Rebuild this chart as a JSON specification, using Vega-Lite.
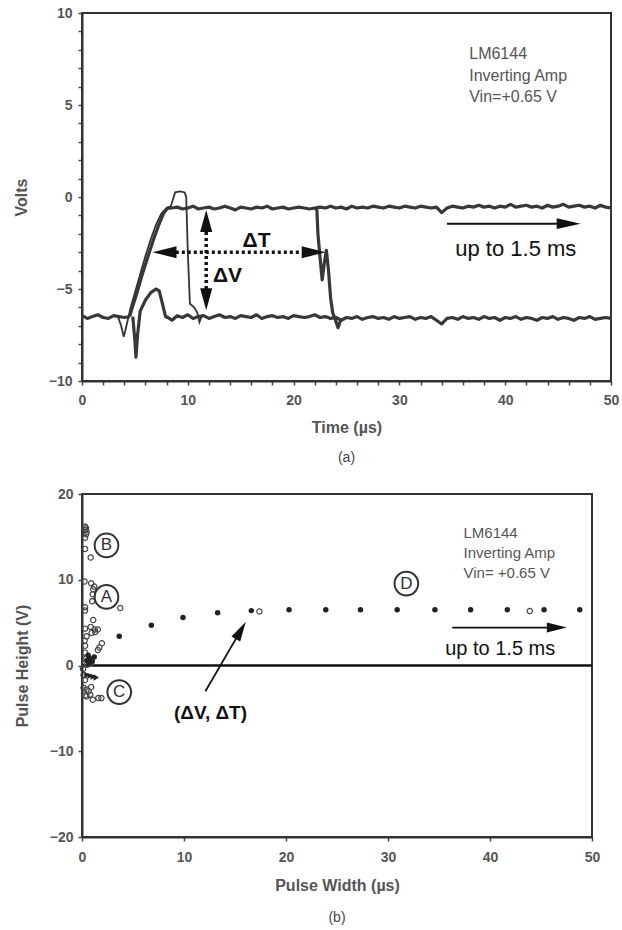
{
  "$schema": "https://vega.github.io/schema/vega-lite/v6.json",
  "padding": {"left": 12, "top": 5, "right": 5, "bottom": 3},
  "spacing": 20,
  "config": {
    "font": "Liberation Sans",
    "view": {"stroke": "#333", "strokeWidth": 2},
    "axis": {"grid": false, "domainColor": "#333", "domainWidth": 2, "tickColor": "#444", "tickWidth": 1.5, "labelFontSize": 14, "labelFontWeight": "bold", "labelColor": "#555", "titleFontSize": 16, "titleFontWeight": "bold", "titleColor": "#555", "labelFlush": false, "labelOverlap": false},
    "title": {"fontSize": 14, "fontWeight": "normal", "color": "#444"}
  },
  "datasets": {
    "traces": [
      {"s": "base1", "t": 0, "v": -6.45}, {"s": "base1", "t": 0.5, "v": -6.6}, {"s": "base1", "t": 1, "v": -6.5}, {"s": "base1", "t": 1.5, "v": -6.4}, {"s": "base1", "t": 2, "v": -6.55}, {"s": "base1", "t": 2.5, "v": -6.6}, {"s": "base1", "t": 3, "v": -6.45}, {"s": "base1", "t": 3.5, "v": -6.5}, {"s": "base1", "t": 4, "v": -6.55}, {"s": "base1", "t": 4.5, "v": -6.5},
      {"s": "base2", "t": 8.0, "v": -6.5}, {"s": "base2", "t": 8.5, "v": -6.7}, {"s": "base2", "t": 9.0, "v": -6.45}, {"s": "base2", "t": 9.5, "v": -6.55}, {"s": "base2", "t": 10.0, "v": -6.4}, {"s": "base2", "t": 10.5, "v": -6.6}, {"s": "base2", "t": 11.0, "v": -6.5}, {"s": "base2", "t": 11.5, "v": -6.45}, {"s": "base2", "t": 12.0, "v": -6.6}, {"s": "base2", "t": 12.5, "v": -6.5}, {"s": "base2", "t": 13.0, "v": -6.4}, {"s": "base2", "t": 13.5, "v": -6.55}, {"s": "base2", "t": 14.0, "v": -6.5}, {"s": "base2", "t": 14.5, "v": -6.6}, {"s": "base2", "t": 15.0, "v": -6.45}, {"s": "base2", "t": 15.5, "v": -6.5}, {"s": "base2", "t": 16.0, "v": -6.55}, {"s": "base2", "t": 16.5, "v": -6.4}, {"s": "base2", "t": 17.0, "v": -6.6}, {"s": "base2", "t": 17.5, "v": -6.5}, {"s": "base2", "t": 18.0, "v": -6.45}, {"s": "base2", "t": 18.5, "v": -6.55}, {"s": "base2", "t": 19.0, "v": -6.5}, {"s": "base2", "t": 19.5, "v": -6.6}, {"s": "base2", "t": 20.0, "v": -6.45}, {"s": "base2", "t": 20.5, "v": -6.5}, {"s": "base2", "t": 21.0, "v": -6.55}, {"s": "base2", "t": 21.5, "v": -6.5}, {"s": "base2", "t": 22.0, "v": -6.4}, {"s": "base2", "t": 22.5, "v": -6.55}, {"s": "base2", "t": 23.0, "v": -6.5}, {"s": "base2", "t": 23.5, "v": -6.6}, {"s": "base2", "t": 24.0, "v": -6.55}, {"s": "base2", "t": 24.5, "v": -6.7}, {"s": "base2", "t": 25.0, "v": -6.55}, {"s": "base2", "t": 25.5, "v": -6.6}, {"s": "base2", "t": 26.0, "v": -6.5}, {"s": "base2", "t": 26.5, "v": -6.65}, {"s": "base2", "t": 27.0, "v": -6.55}, {"s": "base2", "t": 27.5, "v": -6.5}, {"s": "base2", "t": 28.0, "v": -6.6}, {"s": "base2", "t": 28.5, "v": -6.55}, {"s": "base2", "t": 29.0, "v": -6.65}, {"s": "base2", "t": 29.5, "v": -6.5}, {"s": "base2", "t": 30.0, "v": -6.6}, {"s": "base2", "t": 30.5, "v": -6.55}, {"s": "base2", "t": 31.0, "v": -6.5}, {"s": "base2", "t": 31.5, "v": -6.65}, {"s": "base2", "t": 32.0, "v": -6.55}, {"s": "base2", "t": 32.5, "v": -6.6}, {"s": "base2", "t": 33.0, "v": -6.5}, {"s": "base2", "t": 33.5, "v": -6.7}, {"s": "base2", "t": 34.0, "v": -6.9}, {"s": "base2", "t": 34.5, "v": -6.6}, {"s": "base2", "t": 35.0, "v": -6.55}, {"s": "base2", "t": 35.5, "v": -6.65}, {"s": "base2", "t": 36.0, "v": -6.5}, {"s": "base2", "t": 36.5, "v": -6.6}, {"s": "base2", "t": 37.0, "v": -6.55}, {"s": "base2", "t": 37.5, "v": -6.65}, {"s": "base2", "t": 38.0, "v": -6.5}, {"s": "base2", "t": 38.5, "v": -6.6}, {"s": "base2", "t": 39.0, "v": -6.55}, {"s": "base2", "t": 39.5, "v": -6.7}, {"s": "base2", "t": 40.0, "v": -6.55}, {"s": "base2", "t": 40.5, "v": -6.6}, {"s": "base2", "t": 41.0, "v": -6.5}, {"s": "base2", "t": 41.5, "v": -6.65}, {"s": "base2", "t": 42.0, "v": -6.55}, {"s": "base2", "t": 42.5, "v": -6.6}, {"s": "base2", "t": 43.0, "v": -6.7}, {"s": "base2", "t": 43.5, "v": -6.55}, {"s": "base2", "t": 44.0, "v": -6.6}, {"s": "base2", "t": 44.5, "v": -6.5}, {"s": "base2", "t": 45.0, "v": -6.65}, {"s": "base2", "t": 45.5, "v": -6.55}, {"s": "base2", "t": 46.0, "v": -6.6}, {"s": "base2", "t": 46.5, "v": -6.7}, {"s": "base2", "t": 47.0, "v": -6.55}, {"s": "base2", "t": 47.5, "v": -6.6}, {"s": "base2", "t": 48.0, "v": -6.5}, {"s": "base2", "t": 48.5, "v": -6.65}, {"s": "base2", "t": 49.0, "v": -6.6}, {"s": "base2", "t": 49.5, "v": -6.55}, {"s": "base2", "t": 50.0, "v": -6.6},
      {"s": "top", "t": 8.5, "v": -0.6}, {"s": "top", "t": 9.0, "v": -0.55}, {"s": "top", "t": 9.5, "v": -0.65}, {"s": "top", "t": 10.0, "v": -0.6}, {"s": "top", "t": 10.5, "v": -0.5}, {"s": "top", "t": 11.0, "v": -0.65}, {"s": "top", "t": 11.5, "v": -0.6}, {"s": "top", "t": 12.0, "v": -0.55}, {"s": "top", "t": 12.5, "v": -0.65}, {"s": "top", "t": 13.0, "v": -0.6}, {"s": "top", "t": 13.5, "v": -0.5}, {"s": "top", "t": 14.0, "v": -0.6}, {"s": "top", "t": 14.5, "v": -0.7}, {"s": "top", "t": 15.0, "v": -0.55}, {"s": "top", "t": 15.5, "v": -0.6}, {"s": "top", "t": 16.0, "v": -0.65}, {"s": "top", "t": 16.5, "v": -0.55}, {"s": "top", "t": 17.0, "v": -0.6}, {"s": "top", "t": 17.5, "v": -0.5}, {"s": "top", "t": 18.0, "v": -0.65}, {"s": "top", "t": 18.5, "v": -0.6}, {"s": "top", "t": 19.0, "v": -0.55}, {"s": "top", "t": 19.5, "v": -0.65}, {"s": "top", "t": 20.0, "v": -0.6}, {"s": "top", "t": 20.5, "v": -0.55}, {"s": "top", "t": 21.0, "v": -0.6}, {"s": "top", "t": 21.5, "v": -0.65}, {"s": "top", "t": 22.0, "v": -0.6}, {"s": "top", "t": 22.5, "v": -0.55}, {"s": "top", "t": 23.0, "v": -0.6}, {"s": "top", "t": 23.5, "v": -0.5}, {"s": "top", "t": 24.0, "v": -0.6}, {"s": "top", "t": 24.5, "v": -0.55}, {"s": "top", "t": 25.0, "v": -0.65}, {"s": "top", "t": 25.5, "v": -0.5}, {"s": "top", "t": 26.0, "v": -0.6}, {"s": "top", "t": 26.5, "v": -0.55}, {"s": "top", "t": 27.0, "v": -0.6}, {"s": "top", "t": 27.5, "v": -0.5}, {"s": "top", "t": 28.0, "v": -0.55}, {"s": "top", "t": 28.5, "v": -0.6}, {"s": "top", "t": 29.0, "v": -0.5}, {"s": "top", "t": 29.5, "v": -0.55}, {"s": "top", "t": 30.0, "v": -0.6}, {"s": "top", "t": 30.5, "v": -0.5}, {"s": "top", "t": 31.0, "v": -0.55}, {"s": "top", "t": 31.5, "v": -0.6}, {"s": "top", "t": 32.0, "v": -0.5}, {"s": "top", "t": 32.5, "v": -0.55}, {"s": "top", "t": 33.0, "v": -0.6}, {"s": "top", "t": 33.5, "v": -0.55}, {"s": "top", "t": 34.0, "v": -0.85}, {"s": "top", "t": 34.5, "v": -0.6}, {"s": "top", "t": 35.0, "v": -0.5}, {"s": "top", "t": 35.5, "v": -0.55}, {"s": "top", "t": 36.0, "v": -0.6}, {"s": "top", "t": 36.5, "v": -0.5}, {"s": "top", "t": 37.0, "v": -0.55}, {"s": "top", "t": 37.5, "v": -0.45}, {"s": "top", "t": 38.0, "v": -0.55}, {"s": "top", "t": 38.5, "v": -0.5}, {"s": "top", "t": 39.0, "v": -0.6}, {"s": "top", "t": 39.5, "v": -0.5}, {"s": "top", "t": 40.0, "v": -0.55}, {"s": "top", "t": 40.5, "v": -0.4}, {"s": "top", "t": 41.0, "v": -0.55}, {"s": "top", "t": 41.5, "v": -0.5}, {"s": "top", "t": 42.0, "v": -0.45}, {"s": "top", "t": 42.5, "v": -0.55}, {"s": "top", "t": 43.0, "v": -0.5}, {"s": "top", "t": 43.5, "v": -0.6}, {"s": "top", "t": 44.0, "v": -0.45}, {"s": "top", "t": 44.5, "v": -0.55}, {"s": "top", "t": 45.0, "v": -0.5}, {"s": "top", "t": 45.5, "v": -0.4}, {"s": "top", "t": 46.0, "v": -0.55}, {"s": "top", "t": 46.5, "v": -0.5}, {"s": "top", "t": 47.0, "v": -0.45}, {"s": "top", "t": 47.5, "v": -0.55}, {"s": "top", "t": 48.0, "v": -0.5}, {"s": "top", "t": 48.5, "v": -0.6}, {"s": "top", "t": 49.0, "v": -0.45}, {"s": "top", "t": 49.5, "v": -0.55}, {"s": "top", "t": 50.0, "v": -0.6},
      {"s": "hump", "t": 4.8, "v": -6.5}, {"s": "hump", "t": 5.0, "v": -7.8}, {"s": "hump", "t": 5.1, "v": -8.7}, {"s": "hump", "t": 5.25, "v": -7.5}, {"s": "hump", "t": 5.5, "v": -6.2}, {"s": "hump", "t": 6.0, "v": -5.6}, {"s": "hump", "t": 6.5, "v": -5.2}, {"s": "hump", "t": 7.0, "v": -5.0}, {"s": "hump", "t": 7.3, "v": -5.1}, {"s": "hump", "t": 7.6, "v": -5.8}, {"s": "hump", "t": 7.9, "v": -6.5}, {"s": "hump", "t": 8.1, "v": -6.55},
      {"s": "rise", "t": 4.5, "v": -6.5}, {"s": "rise", "t": 4.7, "v": -6.1}, {"s": "rise", "t": 5.2, "v": -5.2}, {"s": "rise", "t": 5.7, "v": -4.2}, {"s": "rise", "t": 6.2, "v": -3.3}, {"s": "rise", "t": 6.7, "v": -2.4}, {"s": "rise", "t": 7.2, "v": -1.6}, {"s": "rise", "t": 7.7, "v": -0.9}, {"s": "rise", "t": 8.1, "v": -0.6}, {"s": "rise", "t": 8.5, "v": -0.6},
      {"s": "fall", "t": 22.0, "v": -0.6}, {"s": "fall", "t": 22.2, "v": -0.7}, {"s": "fall", "t": 22.3, "v": -2.0}, {"s": "fall", "t": 22.5, "v": -3.3}, {"s": "fall", "t": 22.7, "v": -4.5}, {"s": "fall", "t": 22.9, "v": -3.6}, {"s": "fall", "t": 23.1, "v": -2.9}, {"s": "fall", "t": 23.3, "v": -4.0}, {"s": "fall", "t": 23.5, "v": -5.5}, {"s": "fall", "t": 23.7, "v": -6.3}, {"s": "fall", "t": 23.9, "v": -6.6}, {"s": "fall", "t": 24.2, "v": -7.1}, {"s": "fall", "t": 24.5, "v": -6.6},
      {"s": "short", "t": 3.4, "v": -6.5}, {"s": "short", "t": 3.7, "v": -7.0}, {"s": "short", "t": 3.95, "v": -7.6}, {"s": "short", "t": 4.2, "v": -7.0}, {"s": "short", "t": 4.6, "v": -6.0}, {"s": "short", "t": 5.0, "v": -5.2}, {"s": "short", "t": 5.5, "v": -4.2}, {"s": "short", "t": 6.0, "v": -3.2}, {"s": "short", "t": 6.5, "v": -2.3}, {"s": "short", "t": 7.0, "v": -1.5}, {"s": "short", "t": 7.5, "v": -0.9}, {"s": "short", "t": 8.0, "v": -0.6}, {"s": "short", "t": 8.4, "v": -0.5}, {"s": "short", "t": 8.8, "v": 0.25}, {"s": "short", "t": 9.3, "v": 0.3}, {"s": "short", "t": 9.7, "v": 0.25}, {"s": "short", "t": 9.85, "v": 0.0}, {"s": "short", "t": 10.0, "v": -3.0}, {"s": "short", "t": 10.2, "v": -5.8}, {"s": "short", "t": 10.6, "v": -6.0}, {"s": "short", "t": 10.9, "v": -6.3}, {"s": "short", "t": 11.1, "v": -6.8}, {"s": "short", "t": 11.3, "v": -6.5}
    ],
    "openPts": [
      {"t": 0.3, "v": 16.2}, {"t": 0.35, "v": 15.8}, {"t": 0.4, "v": 15.3}, {"t": 0.3, "v": 14.9}, {"t": 0.45, "v": 15.6}, {"t": 0.3, "v": 13.6}, {"t": 0.85, "v": 12.6}, {"t": 0.4, "v": 16.0},
      {"t": 0.25, "v": 9.8}, {"t": 0.9, "v": 9.6}, {"t": 1.1, "v": 8.9}, {"t": 1.05, "v": 8.3}, {"t": 1.0, "v": 7.5}, {"t": 3.75, "v": 6.7}, {"t": 0.3, "v": 6.8}, {"t": 0.3, "v": 6.4}, {"t": 1.2, "v": 9.2},
      {"t": 0.3, "v": 4.3}, {"t": 0.85, "v": 4.5}, {"t": 1.1, "v": 5.3}, {"t": 1.25, "v": 4.2}, {"t": 1.55, "v": 4.2}, {"t": 0.95, "v": 3.8}, {"t": 0.45, "v": 3.4}, {"t": 1.95, "v": 2.6}, {"t": 1.7, "v": 2.1}, {"t": 1.55, "v": 1.8}, {"t": 0.3, "v": 2.3}, {"t": 0.3, "v": 1.5}, {"t": 0.4, "v": 0.8}, {"t": 0.65, "v": 0.6}, {"t": 0.2, "v": 0.2}, {"t": 0.5, "v": 0.1}, {"t": 0.9, "v": 0.3}, {"t": 0.25, "v": 2.9}, {"t": 1.3, "v": 3.9},
      {"t": 0.1, "v": -0.4}, {"t": 0.15, "v": -1.1}, {"t": 0.3, "v": -1.7}, {"t": 0.15, "v": -2.6}, {"t": 0.45, "v": -2.8}, {"t": 0.65, "v": -3.0}, {"t": 0.8, "v": -3.4}, {"t": 1.05, "v": -4.0}, {"t": 0.45, "v": -3.6}, {"t": 1.6, "v": -3.8}, {"t": 1.9, "v": -3.8}, {"t": 0.3, "v": -3.5}, {"t": 0.9, "v": -2.5},
      {"t": 17.4, "v": 6.3}, {"t": 43.9, "v": 6.35}
    ],
    "filledPts": [
      {"t": 3.65, "v": 3.4}, {"t": 6.8, "v": 4.7}, {"t": 9.9, "v": 5.6}, {"t": 13.3, "v": 6.15}, {"t": 16.6, "v": 6.4}, {"t": 20.3, "v": 6.5}, {"t": 23.9, "v": 6.5}, {"t": 27.3, "v": 6.5}, {"t": 30.9, "v": 6.5}, {"t": 34.6, "v": 6.5}, {"t": 38.1, "v": 6.5}, {"t": 41.7, "v": 6.5}, {"t": 45.3, "v": 6.5}, {"t": 48.8, "v": 6.5},
      {"t": 0.6, "v": 1.2}, {"t": 0.8, "v": 0.8}, {"t": 1.0, "v": 0.5}, {"t": 1.2, "v": 1.0}, {"t": 0.7, "v": 0.3}, {"t": 0.5, "v": 0.6}
    ],
    "triPts": [
      {"t": 0.5, "v": -1.1}, {"t": 0.8, "v": -1.2}, {"t": 1.1, "v": -1.3}, {"t": 1.4, "v": -1.4}
    ],
    "letters": [
      {"t": 2.4, "v": 14.0, "label": "B"}, {"t": 2.4, "v": 8.0, "label": "A"}, {"t": 3.65, "v": -3.1, "label": "C"}, {"t": 31.8, "v": 9.55, "label": "D"}
    ]
  },
  "vconcat": [
    {
      "width": 529,
      "height": 368,
      "title": {"text": "(a)", "orient": "bottom", "offset": 16},
      "encoding": {
        "x": {"field": "t", "type": "quantitative", "scale": {"domain": [0, 50], "nice": false},
              "axis": {"title": "Time (µs)", "values": [0,2,4,6,8,10,12,14,16,18,20,22,24,26,28,30,32,34,36,38,40,42,44,46,48,50], "labelExpr": "datum.value % 10 === 0 ? datum.label : ''", "tickSize": 4, "labelPadding": 8, "titlePadding": 12}},
        "y": {"field": "v", "type": "quantitative", "scale": {"domain": [-10, 10], "nice": false},
              "axis": {"title": "Volts", "values": [-10,-9,-8,-7,-6,-5,-4,-3,-2,-1,0,1,2,3,4,5,6,7,8,9,10], "labelExpr": "datum.value % 5 === 0 ? datum.label : ''", "tickSize": 4, "labelPadding": 6, "titlePadding": 19}}
      },
      "layer": [
        {"data": {"name": "traces"}, "transform": [{"filter": "datum.s !== 'short'"}],
         "mark": {"type": "line", "strokeWidth": 3.2, "color": "#383838", "strokeJoin": "round"},
         "encoding": {"detail": {"field": "s"}}},
        {"data": {"name": "traces"}, "transform": [{"filter": "datum.s === 'short'"}],
         "mark": {"type": "line", "strokeWidth": 1.8, "color": "#333"},
         "encoding": {"detail": {"field": "s"}}},
        {"data": {"values": [{"t": 8.3, "v": -3.0, "t2": 20.6, "v2": -3.0}, {"t": 11.74, "v": -1.9, "t2": 11.74, "v2": -5.0}]},
         "mark": {"type": "rule", "strokeDash": [3, 3], "strokeWidth": 3.5, "color": "#111"},
         "encoding": {"x2": {"field": "t2"}, "y2": {"field": "v2"}}},
        {"data": {"values": [{"t": 34.5, "v": -1.45, "t2": 45.5, "v2": -1.45}]},
         "mark": {"type": "rule", "strokeWidth": 2, "color": "#111"},
         "encoding": {"x2": {"field": "t2"}, "y2": {"field": "v2"}}},
        {"data": {"values": [{"t": 7.8, "v": -3.0}]},
         "mark": {"type": "point", "shape": "M-1,0L1,-0.5L1,0.5Z", "size": 576, "filled": true, "color": "#111", "opacity": 1}},
        {"data": {"values": [{"t": 21.9, "v": -3.0}]},
         "mark": {"type": "point", "shape": "M1,0L-1,-0.5L-1,0.5Z", "size": 576, "filled": true, "color": "#111", "opacity": 1}},
        {"data": {"values": [{"t": 11.74, "v": -1.3}]},
         "mark": {"type": "point", "shape": "M0,-1L-0.55,1L0.55,1Z", "size": 484, "filled": true, "color": "#111", "opacity": 1}},
        {"data": {"values": [{"t": 11.74, "v": -5.56}]},
         "mark": {"type": "point", "shape": "M0,1L-0.55,-1L0.55,-1Z", "size": 484, "filled": true, "color": "#111", "opacity": 1}},
        {"data": {"values": [{"t": 46.0, "v": -1.45}]},
         "mark": {"type": "point", "shape": "M1,0L-1,-0.45L-1,0.45Z", "size": 576, "filled": true, "color": "#111", "opacity": 1}},
        {"data": {"values": [{"t": 16.5, "v": -2.4, "label": "ΔT"}, {"t": 13.75, "v": -4.3, "label": "ΔV"}]},
         "mark": {"type": "text", "fontSize": 21, "fontWeight": "bold", "color": "#111"},
         "encoding": {"text": {"field": "label"}}},
        {"data": {"values": [{"t": 41.0, "v": -2.8, "label": "up to 1.5 ms"}]},
         "mark": {"type": "text", "fontSize": 22, "color": "#111"},
         "encoding": {"text": {"field": "label"}}},
        {"data": {"values": [{"t": 36.6, "v": 7.75, "label": "LM6144\nInverting Amp\nVin=+0.65 V"}]},
         "mark": {"type": "text", "fontSize": 16, "color": "#555", "align": "left", "baseline": "middle", "lineBreak": "\n", "lineHeight": 21.5},
         "encoding": {"text": {"field": "label"}}}
      ]
    },
    {
      "width": 510,
      "height": 343,
      "title": {"text": "(b)", "orient": "bottom", "offset": 18},
      "encoding": {
        "x": {"field": "t", "type": "quantitative", "scale": {"domain": [0, 50], "nice": false},
              "axis": {"title": "Pulse Width (µs)", "values": [0, 10, 20, 30, 40, 50], "tickSize": 4, "labelPadding": 9, "titlePadding": 13}},
        "y": {"field": "v", "type": "quantitative", "scale": {"domain": [-20, 20], "nice": false},
              "axis": {"title": "Pulse Height (V)", "values": [-20, -10, 0, 10, 20], "tickSize": 4, "labelPadding": 5, "titlePadding": 19}}
      },
      "layer": [
        {"mark": {"type": "rule", "strokeWidth": 2.5, "color": "#111"}, "data": {"values": [{"v": 0}]},
         "encoding": {"x": null, "y": {"field": "v", "type": "quantitative"}}},
        {"data": {"name": "openPts"},
         "mark": {"type": "point", "filled": false, "size": 28, "strokeWidth": 1.2, "color": "#444", "opacity": 1}},
        {"data": {"name": "filledPts"},
         "mark": {"type": "point", "filled": true, "size": 30, "color": "#222", "opacity": 1}},
        {"data": {"name": "triPts"},
         "mark": {"type": "point", "filled": true, "shape": "triangle-right", "size": 40, "color": "#222", "opacity": 1}},
        {"data": {"name": "letters"},
         "mark": {"type": "point", "filled": false, "shape": "circle", "size": 560, "strokeWidth": 2, "color": "#333", "opacity": 1}},
        {"data": {"name": "letters"},
         "mark": {"type": "text", "fontSize": 17, "color": "#333"},
         "encoding": {"text": {"field": "label"}}},
        {"data": {"values": [{"t": 12.1, "v": -3.0, "t2": 15.57, "v2": 4.1}, {"t": 36.3, "v": 4.42, "t2": 46.0, "v2": 4.42}]},
         "mark": {"type": "rule", "strokeWidth": 1.8, "color": "#111"},
         "encoding": {"x2": {"field": "t2"}, "y2": {"field": "v2"}}},
        {"data": {"values": [{"t": 15.57, "v": 4.1}]},
         "mark": {"type": "point", "shape": "M0,-1L-0.5,1L0.5,1Z", "size": 400, "angle": 30, "filled": true, "color": "#111", "opacity": 1}},
        {"data": {"values": [{"t": 46.55, "v": 4.42}]},
         "mark": {"type": "point", "shape": "M1,0L-1,-0.5L-1,0.5Z", "size": 400, "filled": true, "color": "#111", "opacity": 1}},
        {"data": {"values": [{"t": 12.6, "v": -5.5, "label": "(ΔV, ΔT)"}]},
         "mark": {"type": "text", "fontSize": 19, "fontWeight": "bold", "color": "#111"},
         "encoding": {"text": {"field": "label"}}},
        {"data": {"values": [{"t": 41.0, "v": 1.9, "label": "up to 1.5 ms"}]},
         "mark": {"type": "text", "fontSize": 20, "color": "#111"},
         "encoding": {"text": {"field": "label"}}},
        {"data": {"values": [{"t": 37.4, "v": 15.4, "label": "LM6144\nInverting Amp\nVin= +0.65 V"}]},
         "mark": {"type": "text", "fontSize": 15, "color": "#555", "align": "left", "baseline": "middle", "lineBreak": "\n", "lineHeight": 20},
         "encoding": {"text": {"field": "label"}}}
      ]
    }
  ]
}
